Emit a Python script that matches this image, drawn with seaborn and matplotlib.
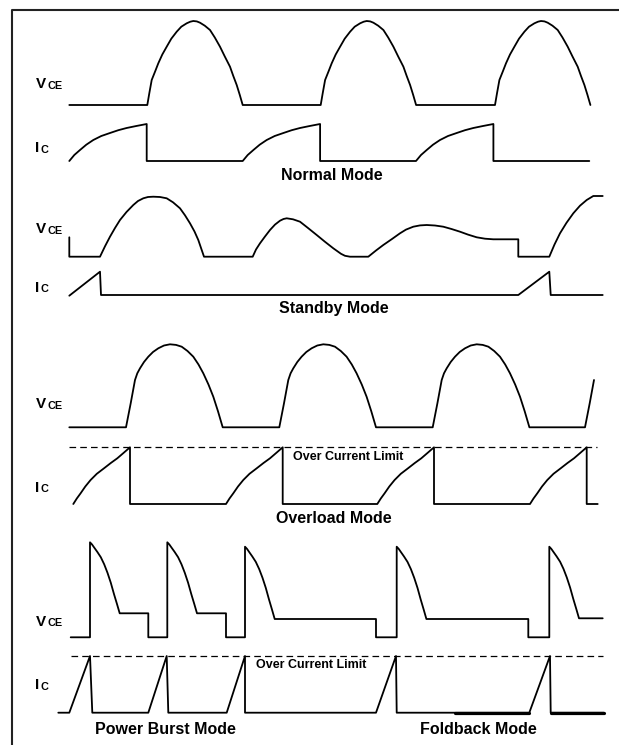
import matplotlib
matplotlib.use("Agg")
import matplotlib.pyplot as plt
from matplotlib.lines import Line2D
import pandas as pd
import seaborn as sns

# ---- waveform data (drawing units = px, y grows down) ----

# Normal mode
NORMAL_VCE_BASE = 105
NORMAL_VCE_START, NORMAL_VCE_END = 69.3, 590
NORMAL_HUMP_STARTS = [147.3, 320.7, 495]
NORMAL_HUMP_DX = [0, 2, 4.4, 8, 11, 15, 19.4, 24, 29.4, 34, 39.4, 43, 46, 49.5, 52.7,
                  57.5, 62.7, 67.5, 72.7, 77.5, 82.7, 86, 89.4, 92.5, 95.4]
NORMAL_HUMP_DY = [0, -11.7, -25, -34, -41.7, -50.5, -58.3, -66.3, -73.3, -78.3, -81.7, -83.3,
                  -84, -83.6, -82.3, -79.3, -75, -67.5, -58.3, -48.5, -38.3, -29, -20, -10, 0]

NORMAL_IC_LOW = 161
NORMAL_IC_END = 589.3
NORMAL_IC_STARTS = [69.3, 242.7, 416]
NORMAL_RISE_DX = [0, 5, 10.7, 17, 24, 32, 40.7, 49, 57.3, 67, 77.4]
NORMAL_RISE_DY = [0, -6, -11, -16.3, -21, -25, -28, -30.8, -33, -35, -37]

# Standby mode
STANDBY_VCE_X = [69.3, 69.3, 100, 105, 110, 115, 120, 126.5, 133.3, 138, 143.3, 148, 153.3, 160, 166.7,
                 173, 180, 185, 190, 194.5, 198.3, 204,
                 252.7, 256, 260, 265, 270, 275, 280, 283.5, 286.7, 293, 300, 308, 316.7, 325, 333.3,
                 341, 345, 350, 368.3, 376, 383.3, 392, 400, 406, 413.3, 420, 426.7, 435, 443.3,
                 451.5, 460, 468, 476.7, 485, 493.3, 518.3, 518.3, 549.3, 554.5, 560, 566.5,
                 573.3, 580, 586.7, 593.3, 602.7]
STANDBY_VCE_Y = [237.3, 256.7, 256.7, 246.3, 236.7, 228, 220, 212, 205, 201, 198.3, 197, 196.7,
                 197, 198.3, 202.3, 208.3, 215.3, 223.3, 231.5, 240, 256.7,
                 256.7, 249.5, 243.3, 236.5, 230, 224.6, 220.7, 219, 218.3, 219.3, 221.7, 228, 235,
                 241.8, 248.3, 253.8, 255.8, 256.7, 256.7, 250.5, 245, 239, 233.3, 229.6, 226.7,
                 225.4, 225, 225.5, 226.7, 229, 231.7, 234.6, 237.3, 238.7, 239.3, 239.3, 256.7,
                 256.7, 244.5, 233.3, 222.8, 213.3, 205.7, 200, 196, 196]
STANDBY_IC_X = [69.3, 100, 101, 518.3, 549.3, 550.7, 602.7]
STANDBY_IC_Y = [295.7, 271.7, 295, 295, 271.7, 295, 295]

# Overload mode
OVERLOAD_VCE_BASE = 427.3
OVERLOAD_VCE_START = 69.3
OVERLOAD_HUMP_STARTS = [126, 279.3, 432.7, 585]
OVERLOAD_LAST_POINTS = 3  # last hump is cut at the right edge
OVERLOAD_HUMP_DX = [0, 4.7, 9, 11.3, 14, 18, 22.3, 27, 32.3, 38, 44, 50, 55.7, 61.5, 67.3,
                    72.5, 77.3, 82.5, 87.3, 92, 96.7]
OVERLOAD_HUMP_DY = [0, -24, -47.3, -54, -59, -65.3, -70.6, -75.3, -79, -81.8, -83, -82.4, -80.6,
                    -76.3, -70.6, -62.8, -54, -42.7, -30.6, -16, 0]

OVERLOAD_IC_LOW = 504
OVERLOAD_IC_END = 597.7
OVERLOAD_IC_STARTS = [73.3, 226, 377.3, 530]
OVERLOAD_RISE_DX = [0, 3.5, 7.3, 12, 17.3, 23.5, 30.7, 37.5, 44, 50.5, 56.7]
OVERLOAD_RISE_DY = [0, -5.5, -10.7, -17.5, -24, -30.2, -35.7, -41, -45.7, -51.3, -56.7]
OVERLOAD_LIMIT = 447.3
OVERLOAD_LIMIT_SPAN = (69.3, 596.7)

# Power burst / foldback mode
BURST_VCE_LOW = 637.3
BURST_VCE_START, BURST_VCE_END = 70.7, 602.7
BURST_RISE_X = [90, 167.3, 245, 396.7, 549.3]
BURST_PEAK = [542.3, 542.3, 546.7, 546.7, 546.7]
BURST_PLATEAU = [613.3, 613.3, 619, 619, 618.3]
BURST_FALL_X = [148.3, 226, 376, 528.3, None]
BURST_DECAY_DX = [0, 2, 4, 7.3, 10.8, 14.2, 17.5, 20.8, 24, 27, 29.7]
BURST_DECAY_FRAC = [0, 0.03, 0.07, 0.135, 0.21, 0.31, 0.43, 0.57, 0.73, 0.87, 1.0]

BURST_IC_LOW = 712.7
BURST_IC_START, BURST_IC_END = 58.3, 604
BURST_RAMP_START = [69.3, 148.3, 226.7, 376, 529.3]
BURST_RAMP_TOP = [90, 166.7, 245, 396, 550]
BURST_RAMP_DROP = [92.3, 168.3, 245, 396.7, 550.7]
BURST_HEAVY = [(455, 529.3), (550.7, 604)]
BURST_LIMIT = 656
BURST_LIMIT_SPAN = (70.7, 602.7)

# Labels
SIGNAL_LABELS = [  # (main, sub, baseline)
    ("V", "CE", 88.3), ("I", "C", 152.3),
    ("V", "CE", 233.3), ("I", "C", 291.7),
    ("V", "CE", 408.3), ("I", "C", 491.7),
    ("V", "CE", 625.7), ("I", "C", 689.3),
]
MODE_LABELS = [
    ("Normal Mode", 332.2, 180),
    ("Standby Mode", 333.8, 312.5),
    ("Overload Mode", 333.7, 523.3),
    ("Power Burst Mode", 165, 734),
    ("Foldback Mode", 478.7, 733.5),
]
LIMIT_LABELS = [("Over Current Limit", 293.3, 460), ("Over Current Limit", 256, 668.3)]


def hump_train(x0, base, starts, dx, dy, last_points=None, x1=None):
    xs, ys = [x0], [base]
    for i, s in enumerate(starts):
        n = len(dx)
        if last_points and i == len(starts) - 1:
            n = last_points
        xs += [s + d for d in dx[:n]]
        ys += [base + d for d in dy[:n]]
    if x1 is not None and xs[-1] < x1:
        xs.append(x1)
        ys.append(base)
    return xs, ys


def sawtooth(low, starts, dx, dy, x1):
    xs, ys = [], []
    for s in starts:
        xs += [s + d for d in dx]
        ys += [low + d for d in dy]
        xs.append(xs[-1])
        ys.append(low)
    xs.append(x1)
    ys.append(low)
    return xs, ys


def burst_vce():
    xs, ys = [BURST_VCE_START], [BURST_VCE_LOW]
    for rx, pk, pl, fx in zip(BURST_RISE_X, BURST_PEAK, BURST_PLATEAU, BURST_FALL_X):
        xs.append(rx)
        ys.append(BURST_VCE_LOW)
        xs += [rx + d for d in BURST_DECAY_DX]
        ys += [pk + f * (pl - pk) for f in BURST_DECAY_FRAC]
        if fx is not None:
            xs += [fx, fx]
            ys += [pl, BURST_VCE_LOW]
        else:
            xs.append(BURST_VCE_END)
            ys.append(pl)
    return xs, ys


def burst_ic():
    xs, ys = [BURST_IC_START], [BURST_IC_LOW]
    for a, t, d in zip(BURST_RAMP_START, BURST_RAMP_TOP, BURST_RAMP_DROP):
        xs += [a, t, d]
        ys += [BURST_IC_LOW, BURST_LIMIT, BURST_IC_LOW]
    xs.append(BURST_IC_END)
    ys.append(BURST_IC_LOW)
    return xs, ys


traces = [
    hump_train(NORMAL_VCE_START, NORMAL_VCE_BASE, NORMAL_HUMP_STARTS,
               NORMAL_HUMP_DX, NORMAL_HUMP_DY, x1=NORMAL_VCE_END),
    sawtooth(NORMAL_IC_LOW, NORMAL_IC_STARTS, NORMAL_RISE_DX, NORMAL_RISE_DY, NORMAL_IC_END),
    (STANDBY_VCE_X, STANDBY_VCE_Y),
    (STANDBY_IC_X, STANDBY_IC_Y),
    hump_train(OVERLOAD_VCE_START, OVERLOAD_VCE_BASE, OVERLOAD_HUMP_STARTS,
               OVERLOAD_HUMP_DX, OVERLOAD_HUMP_DY, last_points=OVERLOAD_LAST_POINTS),
    sawtooth(OVERLOAD_IC_LOW, OVERLOAD_IC_STARTS, OVERLOAD_RISE_DX, OVERLOAD_RISE_DY, OVERLOAD_IC_END),
    burst_vce(),
    burst_ic(),
]

sns.set_theme(style="white")
plt.rcParams["font.family"] = ["Liberation Sans", "DejaVu Sans"]
plt.rcParams["font.weight"] = "bold"
plt.rcParams["text.color"] = "black"

W, H = 619, 745
fig = plt.figure(figsize=(W / 100, H / 100), dpi=100)
fig.patch.set_facecolor("white")
ax = fig.add_axes([0, 0, 1, 1])
ax.set_xlim(0, W)
ax.set_ylim(H, 0)
ax.axis("off")

for xs, ys in traces:
    df = pd.DataFrame({"t": xs, "v": ys})
    sns.lineplot(data=df, x="t", y="v", sort=False, estimator=None,
                 color="black", lw=1.3, ax=ax)

# heavier stretches of the foldback current trace
for a, b in BURST_HEAVY:
    sns.lineplot(x=[a, b], y=[BURST_IC_LOW, BURST_IC_LOW], sort=False, estimator=None,
                 color="black", lw=2.3, ax=ax)

# over current limit lines
for lim, (a, b) in [(OVERLOAD_LIMIT, OVERLOAD_LIMIT_SPAN), (BURST_LIMIT, BURST_LIMIT_SPAN)]:
    ax.plot([a, b], [lim, lim], color="black", lw=0.9, ls=(0, (5.3, 3.3)))

for main, sub, base in SIGNAL_LABELS:
    ax.text(35.5, base, main, fontsize=11, fontweight="bold", color="black",
            ha="left", va="baseline")
    sx = 47.3 if main == "V" else 40.5
    ax.text(sx, base + 0.8, sub, fontsize=7.8, fontweight="bold", color="black",
            ha="left", va="baseline")

for txt, x, y in MODE_LABELS:
    ax.text(x, y, txt, fontsize=11.5, fontweight="bold", color="black",
            ha="center", va="baseline")

for txt, x, y in LIMIT_LABELS:
    ax.text(x, y, txt, fontsize=9, fontweight="bold", color="black",
            ha="left", va="baseline")

# border: top and left only
fig.add_artist(Line2D([12 / W, 12 / W, 1], [0, 1 - 9.5 / H, 1 - 9.5 / H],
                      transform=fig.transFigure, color="#222222", lw=1.5))

fig.savefig("out.png", dpi=100, facecolor="white")
